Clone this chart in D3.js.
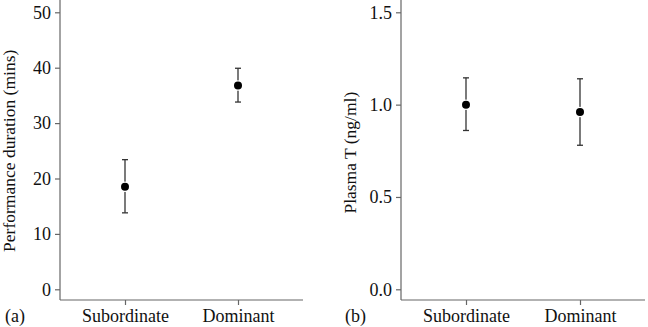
<!DOCTYPE html>
<html>
<head>
<meta charset="utf-8">
<script src="https://cdn.jsdelivr.net/npm/d3@7"></script>
<style>
  body { margin: 0; background: #fff; }
  svg text { font-family: 'Liberation Serif', 'Times New Roman', serif; fill: #111; }
  .axis path, .axis line { stroke: #666; stroke-width: 1.2; }
</style>
</head>
<body>
<div id="chart"></div>
<script>
var W = 648;
var H = 327;

var groups = ['Subordinate', 'Dominant'];

// panel (a): performance duration
var durMean = [18.5, 36.8];
var durLow = [13.8, 33.8];
var durHigh = [23.4, 39.9];
var durTicks = [0, 10, 20, 30, 40, 50];

// panel (b): plasma testosterone
var tMean = [1.0, 0.96];
var tLow = [0.86, 0.78];
var tHigh = [1.145, 1.14];
var tTicks = [0.0, 0.5, 1.0, 1.5];

var fontSize = '18px';

var svg = d3.select('#chart').append('svg').attr('width', W).attr('height', H);

function buildPanel(opts) {
  var g = svg.append('g');

  var xScale = d3.scalePoint()
    .domain(groups)
    .range([opts.left + 65, opts.right - 65]);

  var yScale = d3.scaleLinear()
    .domain(opts.domain)
    .range([289.3, 12.3]);

  // y axis: line runs from the top of the page down to the x axis
  var yAxis = d3.axisLeft(yScale)
    .tickValues(opts.ticks)
    .tickFormat(opts.fmt)
    .tickSize(5)
    .tickPadding(4);

  var ya = g.append('g')
    .attr('class', 'axis')
    .attr('transform', 'translate(' + opts.left + ',0)')
    .call(yAxis);
  ya.select('.domain').remove();
  ya.append('line').attr('x1', 0).attr('x2', 0).attr('y1', 0).attr('y2', 300);
  ya.selectAll('text').style('font-size', fontSize).style('fill', '#111');

  var xAxis = d3.axisBottom(xScale)
    .tickSize(5)
    .tickPadding(4);

  var xa = g.append('g')
    .attr('class', 'axis')
    .attr('transform', 'translate(0,300)')
    .call(xAxis);
  xa.select('.domain').remove();
  xa.append('line').attr('x1', opts.left).attr('x2', opts.right).attr('y1', 0).attr('y2', 0);
  xa.selectAll('text').style('font-size', fontSize).style('fill', '#111');

  // y label
  g.append('text')
    .attr('transform', 'translate(' + (opts.left - 45) + ',' + yScale(opts.labelAt) + ') rotate(-90)')
    .attr('text-anchor', 'middle')
    .style('font-size', '17.5px')
    .text(opts.label);

  // panel letter
  g.append('text')
    .attr('x', opts.letterX)
    .attr('y', 322)
    .style('font-size', fontSize)
    .text(opts.letter);

  var pts = g.selectAll('g.pt')
    .data(groups)
    .enter()
    .append('g')
    .attr('class', 'pt');

  // error bars, broken around the dot
  pts.append('line')
    .attr('x1', function (d) { return xScale(d); })
    .attr('x2', function (d) { return xScale(d); })
    .attr('y1', function (d, i) { return yScale(opts.high[i]); })
    .attr('y2', function (d, i) { return yScale(opts.low[i]); })
    .attr('stroke', '#333')
    .attr('stroke-width', 1.3);

  pts.selectAll('line.cap')
    .data(function (d, i) { return [[d, opts.high[i]], [d, opts.low[i]]]; })
    .enter()
    .append('line')
    .attr('class', 'cap')
    .attr('x1', function (d) { return xScale(d[0]) - 3; })
    .attr('x2', function (d) { return xScale(d[0]) + 3; })
    .attr('y1', function (d) { return yScale(d[1]); })
    .attr('y2', function (d) { return yScale(d[1]); })
    .attr('stroke', '#333')
    .attr('stroke-width', 1.3);

  pts.append('circle')
    .attr('cx', function (d) { return xScale(d); })
    .attr('cy', function (d, i) { return yScale(opts.mean[i]); })
    .attr('r', 4)
    .attr('fill', '#000')
    .attr('stroke', '#fff')
    .attr('stroke-width', 2.5)
    .attr('paint-order', 'stroke');
}

buildPanel({
  left: 60, right: 303,
  domain: [0, 50], ticks: durTicks,
  fmt: d3.format('d'),
  mean: durMean, low: durLow, high: durHigh,
  label: 'Performance duration (mins)', labelAt: 25,
  letter: '(a)', letterX: 5
});

buildPanel({
  left: 401, right: 645,
  domain: [0, 1.5], ticks: tTicks,
  fmt: d3.format('.1f'),
  mean: tMean, low: tLow, high: tHigh,
  label: 'Plasma T (ng/ml)', labelAt: 0.74,
  letter: '(b)', letterX: 345
});
</script>
</body>
</html>
